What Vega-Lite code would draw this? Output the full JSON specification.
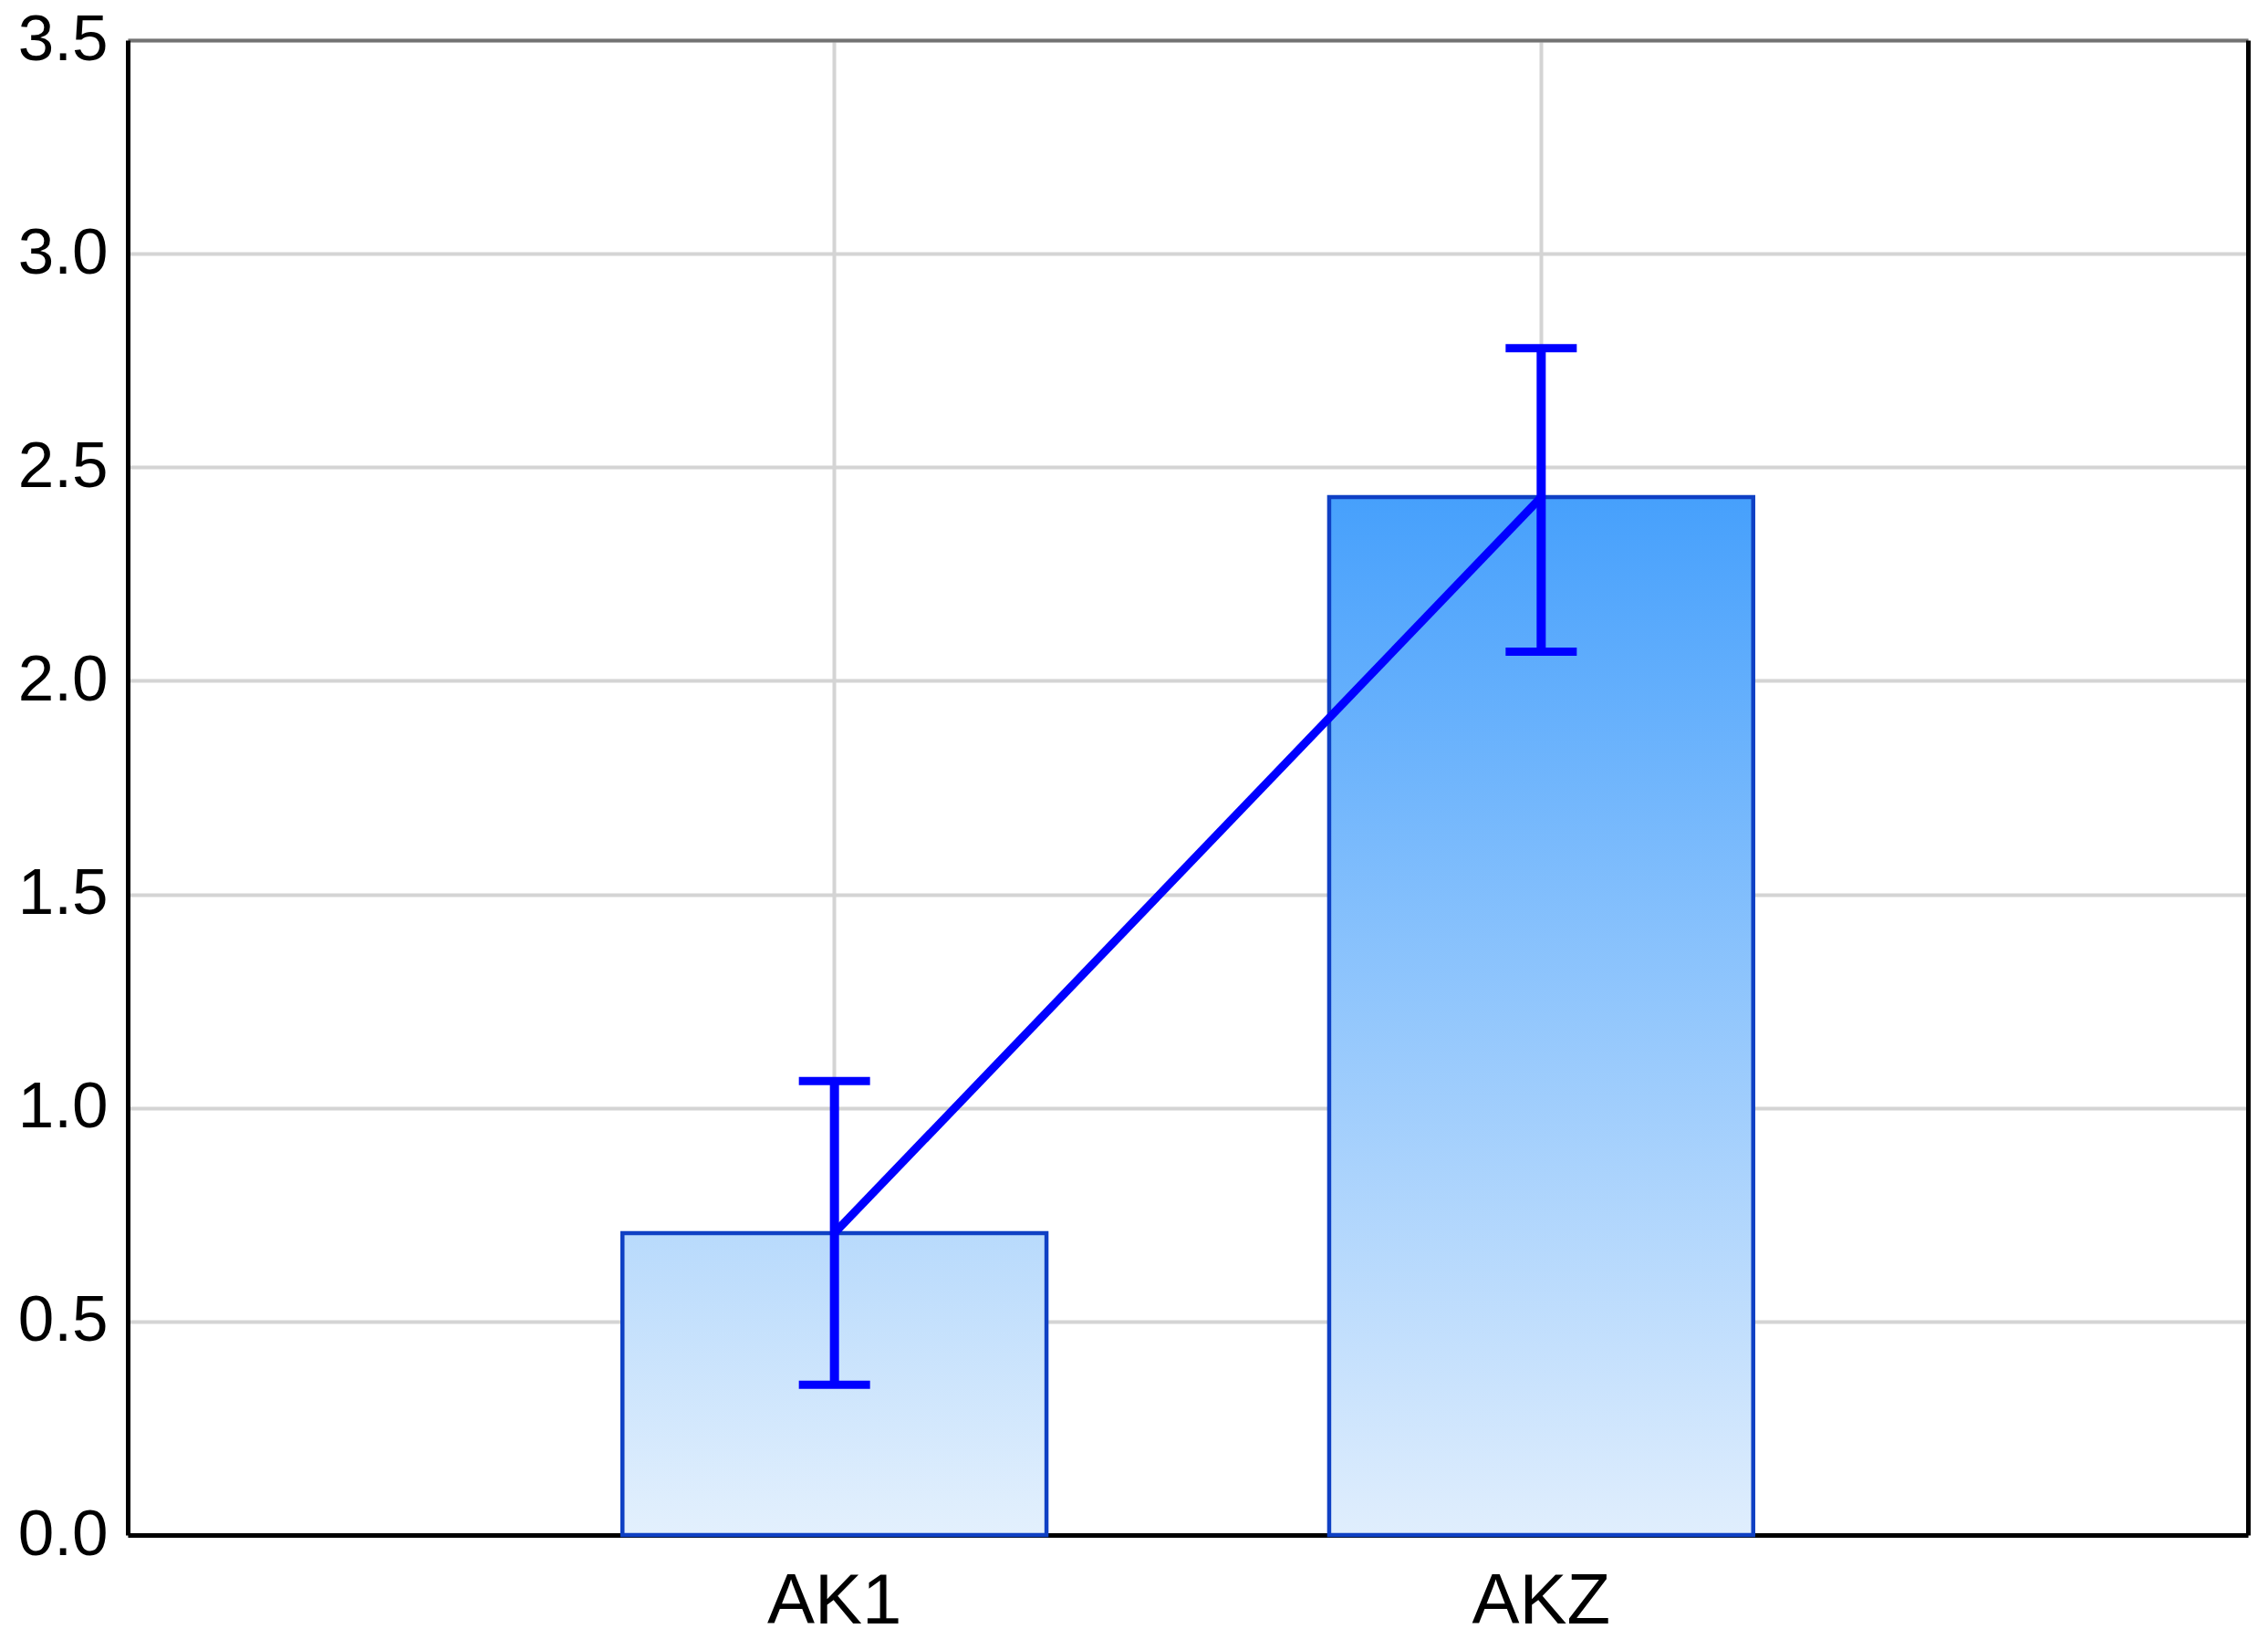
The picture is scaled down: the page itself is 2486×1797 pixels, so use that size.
{
  "$schema": "https://vega.github.io/schema/vega-lite/v6.json",
  "autosize": {"type": "none"},
  "width": 2324,
  "height": 1639,
  "padding": {"left": 140, "top": 44, "right": 22, "bottom": 114},
  "background": "white",
  "config": {
    "view": {"stroke": null},
    "font": "Liberation Sans"
  },
  "data": {
    "values": [
      {"group": "AK1", "mean": 0.707, "lower": 0.352, "upper": 1.063},
      {"group": "AKZ", "mean": 2.43, "lower": 2.068, "upper": 2.779}
    ]
  },
  "layer": [
    {
      "encoding": {
        "x": {
          "field": "group",
          "type": "nominal",
          "scale": {"type": "band", "paddingInner": 0.4, "paddingOuter": 0.7},
          "axis": {
            "title": null,
            "labelAngle": 0,
            "labelFontSize": 78,
            "labelColor": "#000000",
            "labelPadding": 34,
            "ticks": false,
            "domainColor": "#000000",
            "domainWidth": 5,
            "grid": true,
            "bandPosition": 0.5,
            "gridColor": "#d4d4d4",
            "gridWidth": 4
          }
        }
      },
      "layer": [
        {
          "mark": {"type": "bar", "stroke": "#0f40c4", "strokeWidth": 4.5,
            "fill": {"x1": 0, "y1": 0, "x2": 0, "y2": 1, "gradient": "linear",
              "stops": [{"offset": 0, "color": "#b8dafc"}, {"offset": 1, "color": "#e3f0fd"}]}},
          "transform": [{"filter": "datum.group === 'AK1'"}],
          "encoding": {
            "y": {
              "field": "mean", "type": "quantitative",
              "scale": {"domain": [0, 3.5], "nice": false},
              "axis": {
                "title": null,
                "values": [0, 0.5, 1, 1.5, 2, 2.5, 3, 3.5],
                "format": ".1f",
                "labelFontSize": 71,
                "labelColor": "#000000",
                "labelPadding": 22,
                "ticks": false,
                "domainColor": "#000000",
                "domainWidth": 5,
                "gridColor": "#d4d4d4",
                "gridWidth": 4
              }
            }
          }
        },
        {
          "mark": {"type": "bar", "stroke": "#0f40c4", "strokeWidth": 4.5,
            "fill": {"x1": 0, "y1": 0, "x2": 0, "y2": 1, "gradient": "linear",
              "stops": [{"offset": 0, "color": "#46a0fc"}, {"offset": 1, "color": "#e0eefd"}]}},
          "transform": [{"filter": "datum.group === 'AKZ'"}],
          "encoding": {
            "y": {"field": "mean", "type": "quantitative"}
          }
        },
        {
          "mark": {"type": "line", "color": "#0000ff", "strokeWidth": 9},
          "encoding": {
            "y": {"field": "mean", "type": "quantitative"}
          }
        },
        {
          "mark": {"type": "rule", "color": "#0000ff", "strokeWidth": 10},
          "encoding": {
            "y": {"field": "lower", "type": "quantitative"},
            "y2": {"field": "upper"}
          }
        },
        {
          "mark": {"type": "tick", "color": "#0000ff", "size": 78, "thickness": 9, "opacity": 1},
          "encoding": {
            "y": {"field": "upper", "type": "quantitative"}
          }
        },
        {
          "mark": {"type": "tick", "color": "#0000ff", "size": 78, "thickness": 9, "opacity": 1},
          "encoding": {
            "y": {"field": "lower", "type": "quantitative"}
          }
        }
      ]
    },
    {
      "mark": {"type": "rule", "opacity": 0},
      "encoding": {
        "y": {"field": "mean", "type": "quantitative",
          "axis": {"orient": "right", "title": null, "labels": false, "values": [0],
            "ticks": false, "grid": false, "domainColor": "#000000", "domainWidth": 5}},
        "x": {"field": "group", "type": "nominal",
          "axis": {"orient": "top", "title": null, "labels": false,
            "ticks": false, "grid": false, "domainColor": "#737373", "domainWidth": 4}}
      }
    }
  ],
  "resolve": {"axis": {"y": "independent", "x": "independent"}}
}
